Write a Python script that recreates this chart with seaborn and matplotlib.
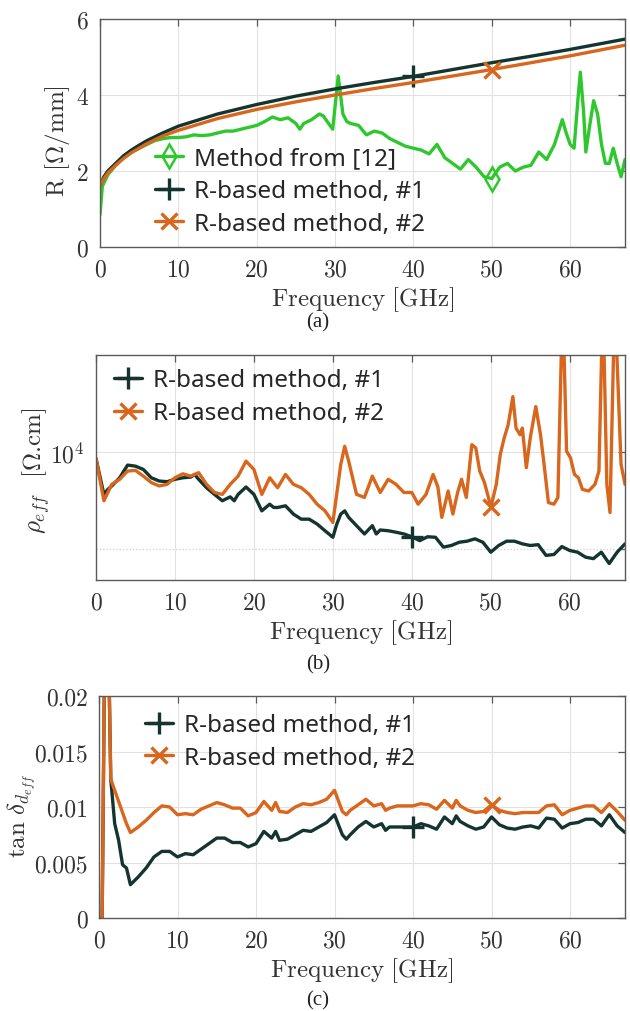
import matplotlib
matplotlib.use("Agg")
import matplotlib.pyplot as plt
import seaborn as sns
from matplotlib.ticker import FixedLocator, NullFormatter

# ---------------- data ----------------
# (a) R [Ohm/mm]
f_r = [0, 0.5, 1, 2, 3, 4, 5, 6, 8, 10, 15, 20, 25, 30, 35, 40, 45, 50, 55, 60, 67]
r_m1 = [1.6, 1.85, 2.0, 2.2, 2.4, 2.55, 2.68, 2.8, 3.0, 3.18, 3.5, 3.75, 3.97, 4.16, 4.33, 4.49,
        4.67, 4.85, 5.02, 5.2, 5.47]
r_m2 = [1.6, 1.8, 1.95, 2.15, 2.33, 2.48, 2.6, 2.72, 2.92, 3.07, 3.38, 3.62, 3.82, 4.0, 4.17, 4.33,
        4.5, 4.67, 4.85, 5.03, 5.31]
f_ref = [0, 0.3, 1, 2, 3, 4, 5, 6, 7, 8, 9, 10, 11, 12, 13, 14, 15, 16, 17, 18, 19, 20, 21, 22, 23,
         24, 25, 25.5, 26, 27, 28, 28.5, 29, 29.7, 30.4, 31, 31.5, 32, 33, 34, 35, 36, 37, 38, 39,
         40, 41, 42, 43, 44, 45, 46, 47, 48, 49, 50, 51, 52, 53, 54, 55, 56, 57, 58, 59, 59.5, 60,
         60.5, 61, 61.3, 61.7, 62, 62.5, 63, 63.5, 64, 64.5, 65, 65.5, 66, 66.5, 67]
r_ref = [0.85, 1.6, 1.9, 2.15, 2.35, 2.5, 2.6, 2.7, 2.8, 2.85, 2.88, 2.88, 2.9, 2.95, 2.93, 2.95,
         3.0, 3.05, 3.05, 3.1, 3.15, 3.2, 3.3, 3.42, 3.35, 3.4, 3.25, 3.1, 3.25, 3.35, 3.5, 3.45,
         3.3, 3.1, 4.5, 3.5, 3.3, 3.25, 3.2, 2.95, 3.05, 3.0, 2.85, 2.75, 2.65, 2.6, 2.55, 2.45,
         2.7, 2.35, 2.2, 2.05, 2.3, 2.1, 1.85, 1.8, 2.1, 2.2, 2.0, 2.1, 2.15, 2.5, 2.3, 2.7, 3.35,
         3.0, 2.7, 2.6, 3.9, 4.6, 3.6, 2.5, 3.2, 3.85, 3.5, 2.7, 2.2, 2.2, 2.6, 2.2, 1.85, 2.3]

# (b) rho_eff [Ohm.cm]
f_rho1 = [0, 1, 1.5, 2, 3, 4, 5, 6, 7, 8, 9, 10, 11, 12, 12.5, 13, 14, 15, 16, 17, 17.5, 18, 19,
          20, 21, 22, 22.5, 23, 24, 25, 26, 27, 28, 29, 30, 30.5, 31, 31.5, 32, 33, 34, 35, 35.5,
          36, 37, 38, 39, 40, 41, 42, 43, 44, 45, 46, 47, 48, 49, 50, 51, 52, 53, 54, 55, 56, 57,
          58, 59, 60, 61, 62, 63, 64, 65, 66, 67]
rho1 = [9540, 7380, 7650, 7840, 8310, 9100, 9030, 8820, 8310, 8120, 8080, 8220, 8310, 8350, 8510,
        8220, 7740, 7380, 7050, 7250, 7050, 7380, 7780, 7380, 6560, 6880, 6720, 6720, 6800, 6410,
        6180, 6180, 5970, 5690, 5430, 5970, 6410, 6560, 6260, 5900, 5560, 5900, 5560, 5720, 5690,
        5630, 5560, 5450, 5300, 5450, 5430, 5060, 5120, 5240, 5280, 5370, 5240, 4880, 5120, 5280,
        5280, 5180, 5120, 5150, 4770, 4800, 5080, 4940, 4880, 4710, 4660, 4880, 4500, 4880, 5180]
f_rho2 = [0, 1, 2, 3, 4, 5, 6, 7, 8, 9, 10, 11, 12, 13, 14, 15, 16, 17, 18, 19, 20, 21, 22, 23,
          24, 25, 26, 27, 28, 29, 30, 31, 31.5, 32, 33, 34, 35, 36, 37, 38, 39, 40, 40.8, 41.8,
          42.7, 43.3, 43.8, 44.6, 45.2, 45.8, 46.3, 46.9, 47.6, 48.1, 48.6, 49.2, 49.7, 50, 50.7,
          51.2, 51.7, 52.2, 52.8, 53.2, 53.7, 54, 54.5, 55, 55.7, 56.3, 56.8, 57.3, 58, 58.5, 59.1,
          59.6, 60.1, 60.6, 61.1, 61.6, 62.4, 63.2, 63.7, 64.2, 64.7, 65.1, 65.7, 66.5, 67]
rho2 = [9540, 7050, 7930, 8220, 8720, 8760, 8410, 8030, 7840, 7930, 8310, 8550, 8410, 8620, 7930,
        7480, 7380, 7930, 8410, 9360, 8820, 7380, 8310, 7740, 8510, 7930, 7740, 7380, 6880, 6560,
        6040, 9140, 10410, 9360, 7380, 7220, 8410, 7480, 8220, 7930, 7480, 7480, 6880, 7380, 8510,
        7780, 6260, 7560, 6410, 7480, 8220, 7220, 10530, 10290, 8720, 8030, 7220, 6720, 7930, 9810,
        11050, 12140, 14850, 11860, 11310, 11860, 8930, 11050, 13830, 11310, 8930, 6960, 6880,
        7220, 30000, 10050, 9580, 8510, 8310, 7650, 7560, 7930, 8720, 30000, 7930, 6480, 30000,
        9140, 7930]

# (c) tan delta_eff
f_tan = [0, 0.4, 0.8, 1.2, 1.5, 2, 2.5, 3, 3.5, 4, 5, 6, 7, 8, 9, 10, 11, 12, 13, 14, 15, 16, 17,
         18, 19, 20, 21, 22, 22.5, 23, 24, 25, 26, 27, 28, 29, 30, 31, 31.5, 32, 33, 34, 35, 36,
         36.5, 37, 38, 39, 40, 41, 42, 43, 44, 45, 45.5, 46, 47, 48, 49, 50, 51, 52, 53, 54, 55,
         56, 57, 58, 59, 60, 61, 62, 63, 64, 65, 66, 67]
tan1 = [0.0, 0.0, 0.03, 0.025, 0.0125, 0.0085, 0.007, 0.0048, 0.0045, 0.003, 0.0037, 0.0045,
        0.0055, 0.006, 0.006, 0.0055, 0.0058, 0.0057, 0.0062, 0.0067, 0.0072, 0.0072, 0.0068,
        0.0068, 0.0064, 0.0067, 0.0078, 0.0072, 0.0078, 0.007, 0.0071, 0.0075, 0.0079, 0.0078,
        0.0082, 0.0086, 0.0093, 0.0075, 0.0071, 0.0075, 0.0082, 0.0087, 0.0082, 0.0085, 0.0079,
        0.0082, 0.0082, 0.0082, 0.0082, 0.0085, 0.0083, 0.008, 0.0091, 0.0085, 0.0092, 0.0087,
        0.0083, 0.008, 0.0082, 0.0091, 0.0084, 0.0081, 0.008, 0.0082, 0.0083, 0.0081, 0.009,
        0.0089, 0.0081, 0.0085, 0.0086, 0.0089, 0.0089, 0.0083, 0.0093, 0.0083, 0.0077]
tan2 = [0.0, 0.0, 0.03, 0.025, 0.0125, 0.0115, 0.0105, 0.0095, 0.0085, 0.0077, 0.0082, 0.0088,
        0.0095, 0.0101, 0.01, 0.0093, 0.0094, 0.0093, 0.0098, 0.0101, 0.0104, 0.0102, 0.0099,
        0.0099, 0.0092, 0.0095, 0.0105, 0.0097, 0.0104, 0.0096, 0.0095, 0.01, 0.0103, 0.0102,
        0.0104, 0.0107, 0.0115, 0.0096, 0.0093, 0.0097, 0.0102, 0.0107, 0.0101, 0.0103, 0.0097,
        0.0099, 0.0101, 0.0101, 0.0101, 0.0103, 0.0102, 0.0098, 0.0106, 0.0099, 0.0106, 0.0101,
        0.0097, 0.0095, 0.0096, 0.0102, 0.0097, 0.0095, 0.0094, 0.0095, 0.0095, 0.0095, 0.0101,
        0.0102, 0.0093, 0.0097, 0.0099, 0.0101, 0.0101, 0.0095, 0.0103, 0.0096, 0.0088]

lbl_ref = "Method from [12]"
lbl_m1 = "R-based method, #1"
lbl_m2 = "R-based method, #2"
freq_ticks = [0, 10, 20, 30, 40, 50, 60]

# ---------------- style ----------------
C_DARK = "#14352f"
C_ORANGE = "#d8661c"
C_GREEN = "#2ec82e"

sns.set_theme(style="whitegrid")
plt.rcParams.update({
    "font.family": ["cmr10"],
    "mathtext.fontset": "cm",
    "axes.formatter.use_mathtext": True,
    "axes.edgecolor": "#5a5a5a",
    "axes.linewidth": 1.0,
    "grid.color": "#e2e2e2",
    "grid.linewidth": 0.8,
    "xtick.color": "#5a5a5a",
    "ytick.color": "#5a5a5a",
    "xtick.labelcolor": "#333333",
    "ytick.labelcolor": "#333333",
})

W, H = 630, 1012
fig = plt.figure(figsize=(W / 100, H / 100), dpi=100)


def axes_px(left, top, right, bottom):
    return fig.add_axes([left / W, 1 - bottom / H, (right - left) / W, (bottom - top) / H])


ax_a = axes_px(100, 20, 625, 248)
ax_b = axes_px(96, 356, 625, 581)
ax_c = axes_px(99, 697, 625, 919)


def draw(ax, f, v, color, label, marker, mark_at, ms, mew, mfc=None):
    idx = f.index(mark_at)
    sns.lineplot(x=f, y=v, ax=ax, color=color, linewidth=2.4, label=label,
                 marker=marker, markevery=[idx], markersize=ms,
                 markeredgecolor=color, markeredgewidth=mew,
                 markerfacecolor=(mfc if mfc is not None else color),
                 sort=False, estimator=None)


TICK_FS = 17
LEG_FS = 17.5


def style_axes(ax, axh_px, ylabel, ylab_x, ylab_y):
    ax.set_xlim(0, 67)
    ax.xaxis.set_major_locator(FixedLocator(freq_ticks))
    ax.tick_params(which="both", direction="in", top=True, right=True, length=5,
                   width=0.9, labelsize=TICK_FS, pad=8)
    ax.set_xlabel(r"$\mathrm{Frequency\ [GHz]}$", fontsize=TICK_FS + 1, color="#333333")
    ax.xaxis.set_label_coords(0.5, -37 / axh_px)
    ax.set_ylabel(ylabel, fontsize=TICK_FS + 1, color="#333333")
    ax.yaxis.set_label_coords(ylab_x, ylab_y)
    ax.grid(True, which="major", color="#e2e2e2", linewidth=0.8)
    for s in ax.spines.values():
        s.set_visible(True)
        s.set_color("#5a5a5a")


def legend(ax, x, y):
    leg = ax.legend(loc="upper left", bbox_to_anchor=(x, y), frameon=False,
                    handlelength=1.15, handletextpad=0.45,
                    labelspacing=0.35, borderpad=0, borderaxespad=0,
                    prop={"family": "Noto Sans", "size": LEG_FS})
    for t in leg.get_texts():
        t.set_color("#262626")


# ---- (a)
draw(ax_a, f_ref, r_ref, C_GREEN, lbl_ref, "d", 50, 12, 1.8, mfc="none")
draw(ax_a, f_r, r_m1, C_DARK, lbl_m1, "+", 40, 16, 2.4)
draw(ax_a, f_r, r_m2, C_ORANGE, lbl_m2, "x", 50, 12, 2.4)
ax_a.set_ylim(0, 6)
ax_a.yaxis.set_major_locator(FixedLocator([0, 2, 4, 6]))
style_axes(ax_a, 228, r"R [$\Omega$/mm]", -0.053, 0.47)
legend(ax_a, 0.105, 0.44)

# ---- (b)
draw(ax_b, f_rho1, rho1, C_DARK, lbl_m1, "+", 40, 16, 2.4)
draw(ax_b, f_rho2, rho2, C_ORANGE, lbl_m2, "x", 50, 12, 2.4)
ax_b.set_yscale("log")
ax_b.set_ylim(4000, 20000)
ax_b.set_yticks([10000], [r"$10^4$"])
ax_b.yaxis.set_minor_locator(FixedLocator([5000]))
ax_b.yaxis.set_minor_formatter(NullFormatter())
style_axes(ax_b, 225, r"$\rho_{eff}$  [$\Omega$.cm]", -0.083, 0.49)
ax_b.tick_params(axis="y", which="minor", length=3)
ax_b.grid(True, which="minor", axis="y", linestyle=":", color="#cfcfcf", linewidth=0.9)
legend(ax_b, 0.034, 0.94)

# ---- (c)
draw(ax_c, f_tan, tan1, C_DARK, lbl_m1, "+", 40, 16, 2.4)
draw(ax_c, f_tan, tan2, C_ORANGE, lbl_m2, "x", 50, 12, 2.4)
ax_c.set_ylim(0, 0.02)
ax_c.set_yticks([0, 0.005, 0.01, 0.015, 0.02], ["0", "0.005", "0.01", "0.015", "0.02"])
style_axes(ax_c, 222, r"$\tan\,\delta_{d_{eff}}$", -0.116, 0.465)
legend(ax_c, 0.0875, 0.922)

# captions
for txt, y in [("(a)", 323), ("(b)", 665), ("(c)", 1001)]:
    fig.text(318 / W, 1 - y / H, txt, ha="center", va="center", fontsize=15,
             family="Liberation Serif", color="#222222")

fig.savefig("out.png", dpi=100)
